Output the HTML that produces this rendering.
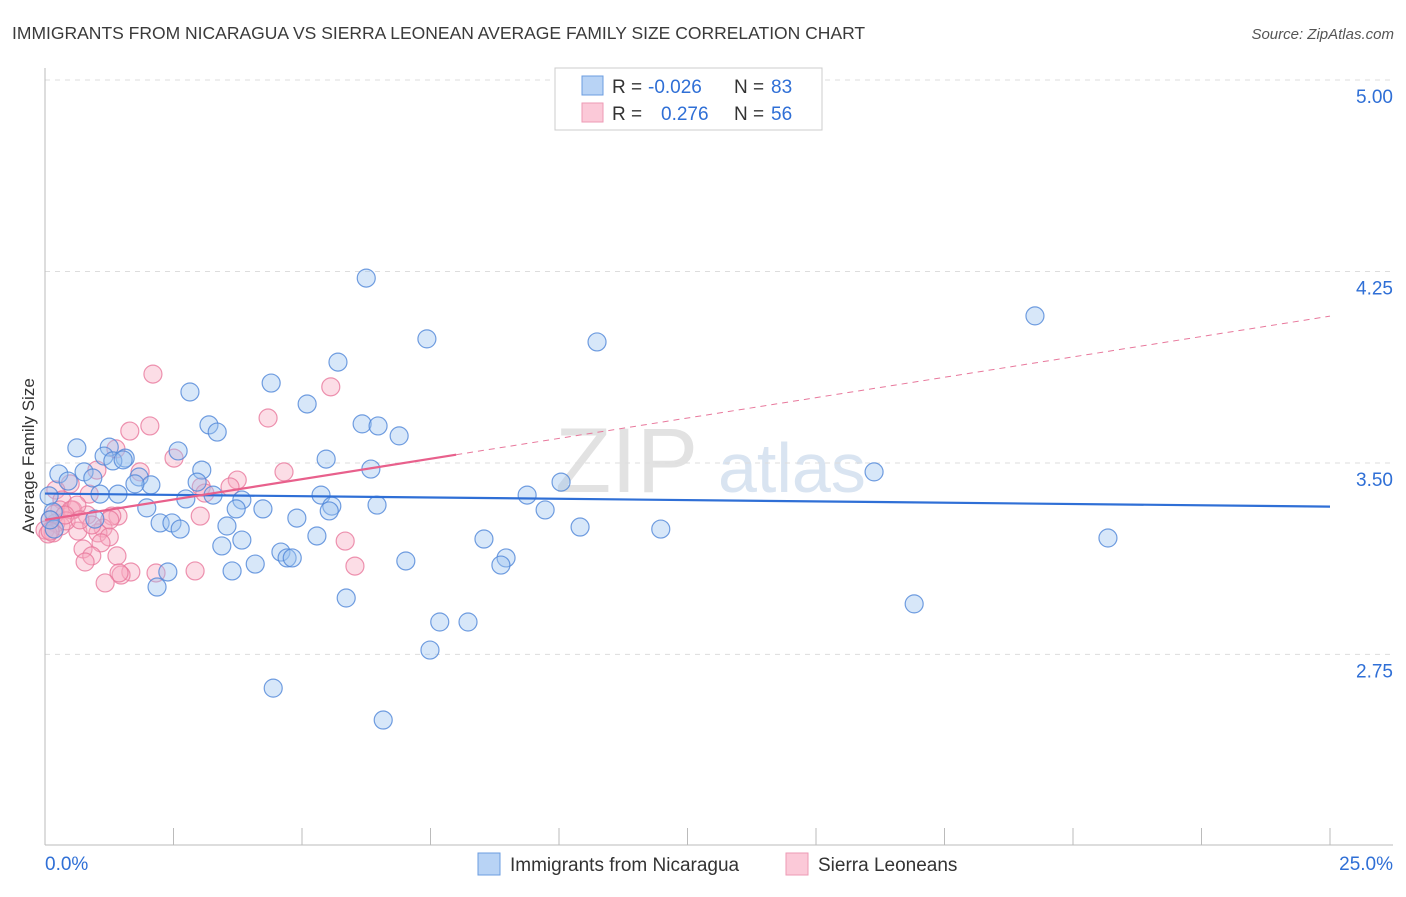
<!DOCTYPE html>
<html><head><meta charset="utf-8"><style>
body{margin:0;background:#fff;font-family:"Liberation Sans",sans-serif;}
svg text{font-family:"Liberation Sans",sans-serif;}
</style></head><body>
<svg id="chart" width="1406" height="892" xmlns="http://www.w3.org/2000/svg">
<text x="12" y="39" font-size="17.5" fill="#3a3a3a">IMMIGRANTS FROM NICARAGUA VS SIERRA LEONEAN AVERAGE FAMILY SIZE CORRELATION CHART</text>
<text x="1394" y="39" font-size="15" fill="#555" text-anchor="end" font-style="italic">Source: ZipAtlas.com</text>
<g>
<text x="555" y="492" font-size="92" fill="#e2e2e2" font-family="Liberation Serif">ZIP</text>
<text x="718" y="492" font-size="70" fill="#d9e4f1">atlas</text>
</g>
<g id="grid"></g>
<g id="axes"></g>
<g id="pts"></g>
<g id="trends"></g>
<text transform="translate(34,456) rotate(-90)" font-size="17" fill="#333" text-anchor="middle">Average Family Size</text>
<g>
<rect x="555" y="68" width="267" height="62" fill="#fff" stroke="#ccc"/>
<rect x="582" y="76" width="21" height="19" fill="#b8d3f5" stroke="#6b9de0"/>
<rect x="582" y="103" width="21" height="19" fill="#fbc9d8" stroke="#ee9ab5"/>
<text x="612" y="93" font-size="19" fill="#333">R =</text>
<text x="648" y="93" font-size="19" fill="#2f6fd6">-0.026</text>
<text x="734" y="93" font-size="19" fill="#333">N =</text>
<text x="771" y="93" font-size="19" fill="#2f6fd6">83</text>
<text x="612" y="120" font-size="19" fill="#333">R =</text>
<text x="661" y="120" font-size="19" fill="#2f6fd6">0.276</text>
<text x="734" y="120" font-size="19" fill="#333">N =</text>
<text x="771" y="120" font-size="19" fill="#2f6fd6">56</text>
</g>
<g>
<rect x="478" y="853" width="22" height="22" fill="#b8d3f5" stroke="#6b9de0"/>
<text x="510" y="871" font-size="19" fill="#333">Immigrants from Nicaragua</text>
<rect x="786" y="853" width="22" height="22" fill="#fbc9d8" stroke="#ee9ab5"/>
<text x="818" y="871" font-size="19" fill="#333">Sierra Leoneans</text>
</g>
</svg>
<script>
const yTicks=[5.00,4.25,3.50,2.75];
const xTickLabels=["0.0%","25.0%"];
const blueX=[6.25,19.26,7.43,10.74,5.70,4.40,2.82,5.10,3.19,3.35,6.17,6.48,6.89,0.62,1.25,2.59,1.15,1.56,1.32,1.52,5.47,0.27,0.76,3.05,6.34,16.13,0.93,0.45,1.83,2.06,1.75,2.96,10.04,0.08,1.07,1.42,2.74,3.27,3.83,5.37,9.38,1.98,3.72,4.24,5.58,5.53,6.46,9.73,0.97,2.24,2.47,2.63,3.54,4.90,10.41,11.98,0.16,0.18,5.29,8.54,20.68,3.83,3.44,4.59,4.71,4.81,8.97,8.87,7.02,4.09,2.39,3.64,2.18,5.86,16.91,7.68,8.23,7.49,4.44,6.58,0.10];
const blueY=[4.224,4.076,3.986,3.974,3.895,3.813,3.778,3.731,3.649,3.621,3.653,3.645,3.606,3.559,3.562,3.547,3.527,3.519,3.508,3.512,3.515,3.457,3.465,3.472,3.476,3.465,3.441,3.429,3.445,3.414,3.418,3.425,3.425,3.371,3.378,3.378,3.359,3.374,3.355,3.374,3.374,3.324,3.320,3.320,3.331,3.312,3.335,3.316,3.280,3.265,3.265,3.241,3.253,3.284,3.249,3.241,3.308,3.241,3.214,3.202,3.206,3.198,3.175,3.151,3.128,3.128,3.128,3.100,3.116,3.104,3.073,3.077,3.014,2.971,2.948,2.877,2.877,2.767,2.618,2.493,3.277];
const pinkX=[2.10,5.56,4.34,2.04,1.65,1.38,2.51,1.85,1.01,3.74,4.65,3.60,0.49,0.21,3.04,3.11,0.33,0.86,0.29,0.54,1.42,0.82,3.02,1.30,0.10,0.21,0.31,0.00,0.16,1.13,1.03,0.64,1.25,0.74,1.09,5.84,0.91,1.40,0.78,6.03,2.92,1.67,1.48,1.44,2.16,1.17,0.51,0.19,0.41,0.62,0.06,0.10,0.39,0.91,1.26,0.68];
const pinkY=[3.848,3.798,3.676,3.645,3.625,3.555,3.519,3.465,3.472,3.433,3.465,3.406,3.418,3.394,3.406,3.382,3.355,3.378,3.316,3.316,3.292,3.296,3.292,3.292,3.277,3.265,3.253,3.237,3.226,3.245,3.226,3.233,3.210,3.163,3.187,3.194,3.136,3.136,3.112,3.096,3.077,3.073,3.061,3.069,3.069,3.030,3.316,3.300,3.273,3.335,3.222,3.233,3.296,3.257,3.277,3.277];
const blueTrend=[3.380,3.329];
const pinkTrend=[3.277,4.075];
const pinkSolidEnd=8.0;

const NS="http://www.w3.org/2000/svg";
const X0=45,X1=1330,Y5=80,PXU=255.3;
function sx(v){return X0+(v/25)*(X1-X0);}
function sy(v){return Y5+(5-v)*PXU;}
function mk(tag,attrs,parent){const e=document.createElementNS(NS,tag);for(const k in attrs)e.setAttribute(k,attrs[k]);parent.appendChild(e);return e;}
const grid=document.getElementById('grid'),axes=document.getElementById('axes'),pts=document.getElementById('pts'),tr=document.getElementById('trends');
yTicks.forEach(t=>{
  const l=mk('line',{x1:45,x2:1393,y1:sy(t),y2:sy(t),stroke:'#ddd','stroke-dasharray':'5,5'},grid);
  
  
  const tx=mk('text',{x:1393,y:sy(t)+23,'font-size':19,fill:'#2f6fd6','text-anchor':'end'},axes);
  
  
  tx.textContent=t.toFixed(2);
});
const ya=mk('line',{x1:45,x2:45,y1:68,y2:845,stroke:'#bbb'},axes);


const xa=mk('line',{x1:45,x2:1393,y1:845,y2:845,stroke:'#bbb'},axes);


for(let i=0;i<=10;i++){
  const t=mk('line',{x1:sx(i*2.5),x2:sx(i*2.5),y1:828,y2:845,stroke:'#bbb'},axes);
  
  
}
const xl0=mk('text',{x:45,y:870,'font-size':19,fill:'#2f6fd6'},axes);


xl0.textContent=xTickLabels[0];
const xl1=mk('text',{x:1393,y:870,'font-size':19,fill:'#2f6fd6','text-anchor':'end'},axes);


xl1.textContent=xTickLabels[1];
function dots(xs,ys,fill,stroke,name){
  xs.forEach((x,i)=>{
    const c=mk('circle',{cx:sx(x),cy:sy(ys[i]),r:9,fill:fill,'fill-opacity':0.4,stroke:stroke,'stroke-width':1.2,'stroke-opacity':0.8},pts);
    
    
  });
}
dots(pinkX,pinkY,'#f7a9c0','#e8789c','point-sierra-leonean');
dots(blueX,blueY,'#9cc2f0','#4f86d8','point-nicaragua');
const bl=mk('line',{x1:sx(0),x2:sx(25),y1:sy(blueTrend[0]),y2:sy(blueTrend[1]),stroke:'#2f6fd6','stroke-width':2.2},tr);


function pv(x){return pinkTrend[0]+(pinkTrend[1]-pinkTrend[0])*x/25;}
const pl=mk('line',{x1:sx(0),x2:sx(pinkSolidEnd),y1:sy(pv(0)),y2:sy(pv(pinkSolidEnd)),stroke:'#e8608c','stroke-width':2.2},tr);


const pd=mk('line',{x1:sx(pinkSolidEnd),x2:sx(25),y1:sy(pv(pinkSolidEnd)),y2:sy(pv(25)),stroke:'#e8789c','stroke-width':1,'stroke-dasharray':'6,5'},tr);


</script>
</body></html>
